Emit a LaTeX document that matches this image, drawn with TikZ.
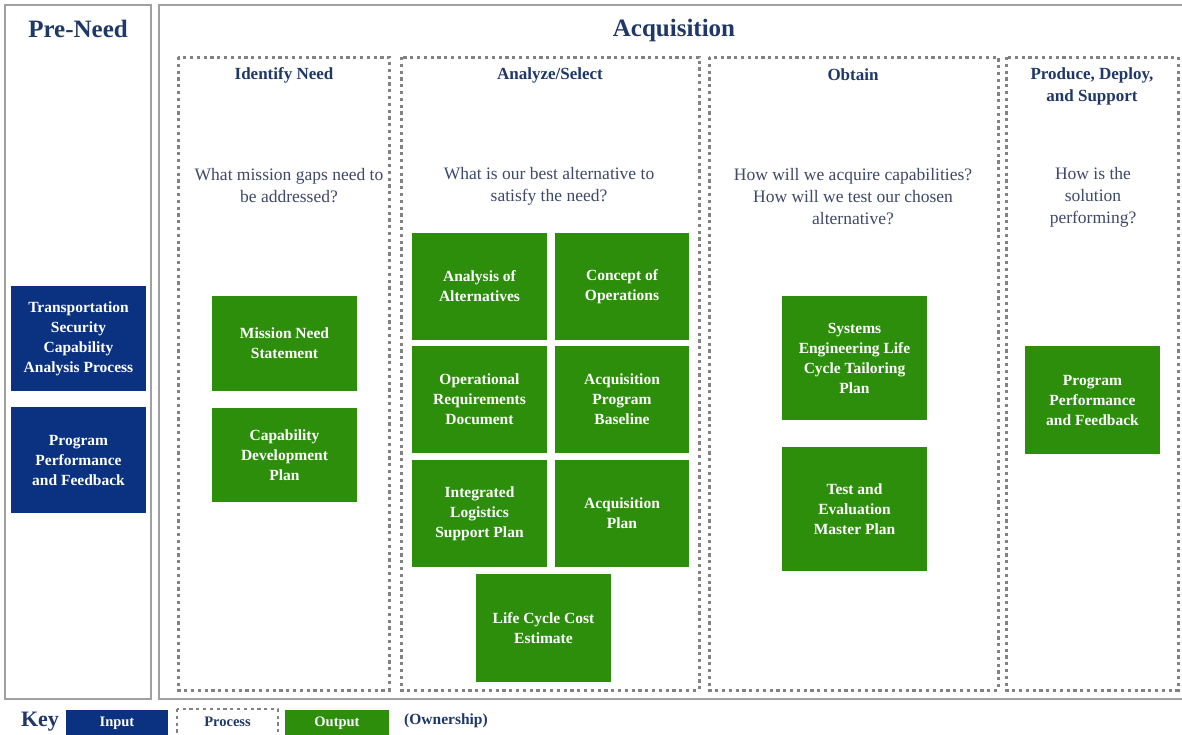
\documentclass[tikz,border=0pt]{standalone}
\usepackage{fontspec}
\setmainfont{Liberation Serif}
\definecolor{navybox}{RGB}{10,50,128}
\definecolor{outgreen}{RGB}{45,142,12}
\definecolor{titleblue}{RGB}{31,56,104}
\definecolor{qtext}{RGB}{62,72,105}
\definecolor{framegray}{RGB}{160,160,160}
\definecolor{dotgray}{RGB}{130,130,130}
\tikzset{
  frame/.style={draw=framegray, line width=2pt},
  procbox/.style={draw=dotgray, line width=3pt, dash pattern=on 3.2pt off 3.6pt},
  gbox/.style={fill=outgreen, text=white, align=center, inner sep=2pt,
    font=\bfseries\fontsize{15.5}{20}\selectfont},
  bbox/.style={fill=navybox, text=white, align=center, inner sep=2pt,
    font=\bfseries\fontsize{15.5}{20}\selectfont},
  bigtitle/.style={text=titleblue, font=\bfseries\fontsize{25}{30}\selectfont},
  ptitle/.style={text=titleblue, align=center, font=\bfseries\fontsize{17}{22}\selectfont},
  question/.style={text=qtext, align=center, font=\fontsize{17.5}{22}\selectfont},
  keytext/.style={font=\bfseries\fontsize{14.5}{17}\selectfont}
}
\begin{document}
\begin{tikzpicture}[x=1pt,y=-1pt]
\path[use as bounding box, fill=white] (0,0) rectangle (1182,734);
% frames
\draw[frame] (5,5) rectangle (151,699);
\draw[frame] (159,5) rectangle (1200,699);
\node[bigtitle] (preneed) at (78,29) {Pre-Need};
\node[bigtitle] (acq) at (674,30) {Acquisition};
% process boxes
\draw[procbox] (178,57) rectangle (389,690);
\draw[procbox] (401,57) rectangle (699,690);
\draw[procbox] (709,57) rectangle (998,690);
\draw[procbox] (1006,57) rectangle (1178,690);
\node[ptitle] (t1) at (284,75) {Identify Need};
\node[ptitle] (t2) at (550,75) {Analyze/Select};
\node[ptitle] (t3) at (853,75) {Obtain};
\node[ptitle] (t4) at (1092,86) {Produce, Deploy,\\and Support};
\node[question] (q1) at (289,186) {What mission gaps need to\\be addressed?};
\node[question] (q2) at (549,186) {What is our best alternative to\\satisfy the need?};
\node[question] (q3) at (853,197) {How will we acquire capabilities?\\How will we test our chosen\\alternative?};
\node[question] (q4) at (1093,197) {How is the\\solution\\performing?};
% inputs
\node[bbox, minimum width=135pt, minimum height=105pt] (tsca) at (78.5,338.5) {Transportation\\Security\\Capability\\Analysis Process};
\node[bbox, minimum width=135pt, minimum height=106pt] (ppfin) at (78.5,460) {Program\\Performance\\and Feedback};
% outputs
\node[gbox, minimum width=145pt, minimum height=95pt] (mns) at (284.5,343.5) {Mission Need\\Statement};
\node[gbox, minimum width=145pt, minimum height=94pt] (cdp) at (284.5,455) {Capability\\Development\\Plan};
\node[gbox, minimum width=135pt, minimum height=107pt] (aoa) at (479.5,286.5) {Analysis of\\Alternatives};
\node[gbox, minimum width=134pt, minimum height=107pt] (conops) at (622,286.5) {Concept of\\Operations};
\node[gbox, minimum width=135pt, minimum height=107pt] (ord) at (479.5,399.5) {Operational\\Requirements\\Document};
\node[gbox, minimum width=134pt, minimum height=107pt] (apb) at (622,399.5) {Acquisition\\Program\\Baseline};
\node[gbox, minimum width=135pt, minimum height=107pt] (ils) at (479.5,513.5) {Integrated\\Logistics\\Support Plan};
\node[gbox, minimum width=134pt, minimum height=107pt] (ap) at (622,513.5) {Acquisition\\Plan};
\node[gbox, minimum width=135pt, minimum height=108pt] (lcce) at (543.5,628) {Life Cycle Cost\\Estimate};
\node[gbox, minimum width=145pt, minimum height=124pt] (sel) at (854.5,358) {Systems\\Engineering Life\\Cycle Tailoring\\Plan};
\node[gbox, minimum width=145pt, minimum height=124pt] (temp) at (854.5,509) {Test and\\Evaluation\\Master Plan};
\node[gbox, minimum width=135pt, minimum height=108pt] (ppfout) at (1092.5,400) {Program\\Performance\\and Feedback};
% key
\node[text=titleblue, font=\bfseries\fontsize{22}{24}\selectfont] (key) at (40,722) {Key};
\node[fill=navybox, text=white, keytext, minimum width=102pt, minimum height=26pt] (kin) at (117,723) {Input};
\draw[procbox, line width=2.5pt] (177,709) rectangle (278,745);
\node[text=titleblue, keytext] (kproc) at (227.5,722) {Process};
\node[fill=outgreen, text=white, keytext, minimum width=104pt, minimum height=26pt] (kout) at (337,723) {Output};
\node[text=titleblue, font=\bfseries\fontsize{15.5}{17}\selectfont] (kown) at (446,721) {(Ownership)};
\end{tikzpicture}
\end{document}
